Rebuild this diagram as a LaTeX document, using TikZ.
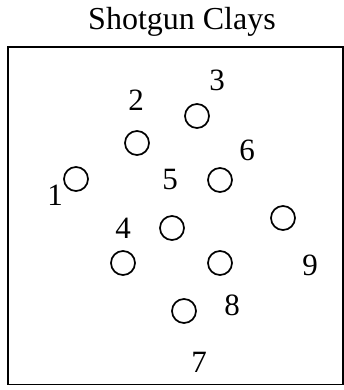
\documentclass[tikz,border=0pt]{standalone}
\usepackage{fontspec}
\setmainfont{Liberation Serif}
\usepackage{tikz}
\usetikzlibrary{positioning}

\begin{document}
\begin{tikzpicture}[x=1pt,y=-1pt,
  every node/.style={inner sep=0pt,font=\fontsize{31}{34}\selectfont},
  clay/.style={draw,circle,line width=1.7pt,minimum size=24pt},
  num/.style={}]
\useasboundingbox (0,0) rectangle (343,390);
\node (title) at (182,22) {\fontsize{32}{35}\selectfont Shotgun Clays};
\node[draw,line width=1.8pt,minimum width=335pt,minimum height=337pt,
  anchor=north west] (range) at (7,46.5) {};
% clays
\node[clay] (c1) at (76,179) {};
\node[clay] (c2) at (137,143) {};
\node[clay] (c3) at (197,116) {};
\node[clay] (c4) at (123,263) {};
\node[clay] (c5) at (172,228) {};
\node[clay] (c6) at (220,180) {};
\node[clay] (c7) at (184,311) {};
\node[clay] (c8) at (220,263) {};
\node[clay] (c9) at (283,218) {};
% numbers
\node[num] (n1) at (55,195) {1};
\node[num] (n2) at (136,100) {2};
\node[num] (n3) at (217,80) {3};
\node[num] (n4) at (123,228) {4};
\node[num] (n5) at (170,180) {5};
\node[num] (n6) at (247,150) {6};
\node[num] (n7) at (199,362) {7};
\node[num] (n8) at (232,305) {8};
\node[num] (n9) at (310,265) {9};
\end{tikzpicture}
\end{document}
